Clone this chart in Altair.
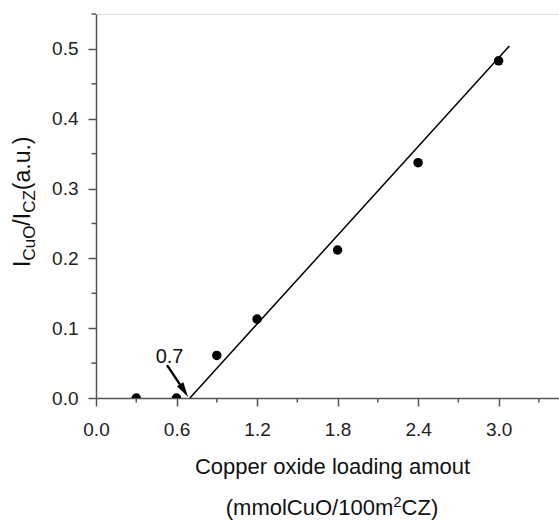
import altair as alt
import pandas as pd

# ---------------- data ----------------
x_vals = [0.3, 0.6, 0.9, 1.2, 1.8, 2.4, 3.0]
y_vals = [0.0, 0.0, 0.061, 0.113, 0.212, 0.337, 0.483]

fit_x = [0.70, 3.08]
fit_y = [0.0, 0.504]

arrow_x = [0.529, 0.6565]
arrow_y = [0.047, 0.0106]
head_x = [0.6565]
head_y = [0.0106]

note_text = ["0.7"]
note_x = [0.548]
note_y = [0.0505]

x_ticks = [0.0, 0.6, 1.2, 1.8, 2.4, 3.0]
y_ticks = [0.0, 0.1, 0.2, 0.3, 0.4, 0.5]
x_minor = [0.3, 0.9, 1.5, 2.1, 2.7, 3.3]
y_minor = [0.05, 0.15, 0.25, 0.35, 0.45, 0.55]

x_title = "Copper oxide loading amout"
x_unit_parts = ["(mmolCuO/100m", "2", "CZ)"]
y_title_parts = ["I", "CuO", "/", "I", "CZ", "(a.u.)"]

# ---------------- layout ----------------
FONT = "Liberation Sans"
W, H = 463, 384
PAD_L, PAD_T = 96, 14
AXIS_C = "#555555"
TXT_C = "#111111"

# Arial / Liberation Sans advance widths (em)
ADV = {"I": .278, "C": .722, "u": .556, "O": .778, "/": .278, "Z": .611,
       "(": .333, ")": .333, "a": .556, ".": .278, "m": .833, "o": .556,
       "l": .222, "1": .556, "0": .556, "2": .556}


def text_w(s, fs):
    return sum(ADV.get(c, .556) for c in s) * fs


xscale = alt.Scale(domain=[0, 3.45], nice=False, zero=False)
yscale = alt.Scale(domain=[0, 0.55], nice=False, zero=False)

xaxis = alt.Axis(values=x_ticks, format=".1f", title=x_title,
                 titleFont=FONT, titleFontSize=22, titleFontWeight="normal",
                 titleColor=TXT_C, titleX=236, titleY=75, titleAlign="center",
                 titleBaseline="alphabetic",
                 labelFont=FONT, labelFontSize=19, labelColor="#222222",
                 labelPadding=14, labelFlush=False, labelOverlap=False,
                 tickSize=8, tickColor=AXIS_C, tickWidth=1.5,
                 domainColor=AXIS_C, domainWidth=1.5, grid=False)
yaxis = alt.Axis(values=y_ticks, format=".1f", title=None,
                 labelFont=FONT, labelFontSize=19, labelColor="#222222",
                 labelPadding=10, labelFlush=False, labelOverlap=False,
                 tickSize=8, tickColor=AXIS_C, tickWidth=1.5,
                 domainColor=AXIS_C, domainWidth=1.5, grid=False)

X = alt.X("x:Q", scale=xscale, axis=xaxis)
Y = alt.Y("y:Q", scale=yscale, axis=yaxis)

pts = alt.Chart(pd.DataFrame({"x": x_vals, "y": y_vals})).mark_circle(
    size=90, color="black", opacity=1, clip=True).encode(x=X, y=Y)

fit = alt.Chart(pd.DataFrame({"x": fit_x, "y": fit_y})).mark_line(
    color="black", strokeWidth=1.5).encode(x=X, y=Y)

shaft = alt.Chart(pd.DataFrame({"x": arrow_x, "y": arrow_y})).mark_line(
    color="black", strokeWidth=2.4).encode(x=X, y=Y)

head = alt.Chart(pd.DataFrame({"x": head_x, "y": head_y})).mark_point(
    shape="M0,-1L0.5,1L-0.5,1Z", angle=148.3, size=225, filled=True,
    color="black", opacity=1).encode(x=X, y=Y)

note = alt.Chart(pd.DataFrame({"x": note_x, "y": note_y, "t": note_text})).mark_text(
    font=FONT, fontSize=20, color=TXT_C, align="center", baseline="alphabetic"
).encode(x=X, y=Y, text="t:N")

xminor = alt.Chart(pd.DataFrame({"x": x_minor})).mark_rule(
    color=AXIS_C, strokeWidth=1.5).encode(x=X, y=alt.value(H), y2=alt.value(H + 4.5))
yminor = alt.Chart(pd.DataFrame({"y": y_minor})).mark_rule(
    color=AXIS_C, strokeWidth=1.5).encode(y=Y, x=alt.value(-4.5), x2=alt.value(0))

layers = [fit, pts, shaft, head, note, xminor, yminor]

# y title with subscripts (rotated pieces, reading upward)
main_fs, sub_fs = 23, 17
pos = 267 - PAD_T
for i, part in enumerate(y_title_parts):
    is_sub = i in (1, 4)
    fs = sub_fs if is_sub else main_fs
    bx = (35 if is_sub else 30) - PAD_L
    layers.append(
        alt.Chart(pd.DataFrame({"t": [part]})).mark_text(
            font=FONT, fontSize=fs, color=TXT_C, angle=270, align="left",
            baseline="alphabetic").encode(x=alt.value(bx), y=alt.value(pos), text="t:N"))
    pos -= text_w(part, fs)

# second line of x title with superscript
unit_fs, sup_fs = 22, 15
total = text_w(x_unit_parts[0], unit_fs) + text_w(x_unit_parts[1], sup_fs) + text_w(x_unit_parts[2], unit_fs)
px = 332 - PAD_L - total / 2
for i, part in enumerate(x_unit_parts):
    fs = sup_fs if i == 1 else unit_fs
    by = (507 if i == 1 else 515) - PAD_T
    layers.append(
        alt.Chart(pd.DataFrame({"t": [part]})).mark_text(
            font=FONT, fontSize=fs, color=TXT_C, align="left",
            baseline="alphabetic").encode(x=alt.value(px), y=alt.value(by), text="t:N"))
    px += text_w(part, fs)

chart = alt.layer(*layers).properties(
    width=W, height=H,
    padding={"left": PAD_L, "top": PAD_T, "right": 0, "bottom": 521 - PAD_T - H},
    autosize=alt.AutoSizeParams(type="none"),
).configure_view(strokeWidth=0).configure(background="white")

chart.save("out.html", embed_options={"renderer": "svg", "actions": False})
